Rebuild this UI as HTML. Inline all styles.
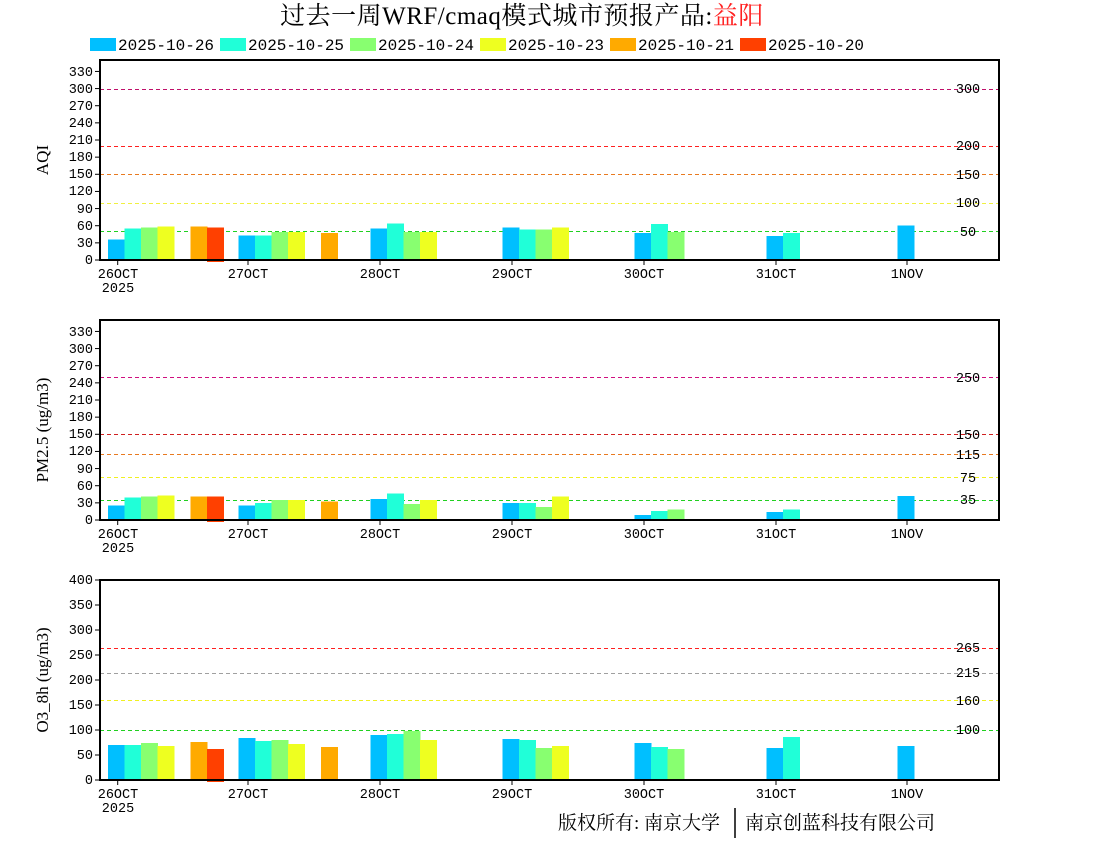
<!DOCTYPE html>
<html><head><meta charset="utf-8"><style>
body{margin:0;background:#fff;width:1100px;height:850px;overflow:hidden}
svg{font-family:"Liberation Mono","DejaVu Sans Mono",monospace}
.t{font-size:13.5px;fill:#000}
.yl{font-family:"Liberation Serif",serif;font-size:17px}
.cj{font-family:"Liberation Serif","Noto Serif CJK SC","Noto Sans CJK SC",serif}
</style></head><body>
<svg id="s" width="1100" height="850" xmlns="http://www.w3.org/2000/svg">
<text x="522" y="24" text-anchor="middle" class="cj" font-size="25" letter-spacing="0.5">过去一周WRF/cmaq模式城市预报产品:<tspan fill="#ff2020">益阳</tspan></text>
<g font-size="16" style="font-size:16px">
<rect x="90" y="38" width="26" height="13" fill="#00bfff"/><text x="118" y="50">2025-10-26</text>
<rect x="220" y="38" width="26" height="13" fill="#20ffd8"/><text x="248" y="50">2025-10-25</text>
<rect x="350" y="38" width="26" height="13" fill="#88ff70"/><text x="378" y="50">2025-10-24</text>
<rect x="480" y="38" width="26" height="13" fill="#eeff20"/><text x="508" y="50">2025-10-23</text>
<rect x="610" y="38" width="26" height="13" fill="#ffaa00"/><text x="638" y="50">2025-10-21</text>
<rect x="740" y="38" width="26" height="13" fill="#ff4000"/><text x="768" y="50">2025-10-20</text>
</g>
<g id="g"></g>
<g class="t" text-anchor="end">
<text x="93" y="264">0</text><text x="93" y="247">30</text><text x="93" y="230">60</text><text x="93" y="213">90</text><text x="93" y="195">120</text><text x="93" y="178">150</text><text x="93" y="161">180</text><text x="93" y="144">210</text><text x="93" y="127">240</text><text x="93" y="110">270</text><text x="93" y="93">300</text><text x="93" y="76">330</text>
<text x="93" y="524">0</text><text x="93" y="507">30</text><text x="93" y="490">60</text><text x="93" y="473">90</text><text x="93" y="455">120</text><text x="93" y="438">150</text><text x="93" y="421">180</text><text x="93" y="404">210</text><text x="93" y="387">240</text><text x="93" y="370">270</text><text x="93" y="353">300</text><text x="93" y="336">330</text>
<text x="93" y="784">0</text><text x="93" y="759">50</text><text x="93" y="734">100</text><text x="93" y="709">150</text><text x="93" y="684">200</text><text x="93" y="659">250</text><text x="93" y="634">300</text><text x="93" y="609">350</text><text x="93" y="584">400</text>
</g>
<g class="t" text-anchor="middle">
<text x="968" y="93">300</text><text x="968" y="150">200</text><text x="968" y="179">150</text><text x="968" y="207">100</text><text x="968" y="236">50</text>
<text x="968" y="382">250</text><text x="968" y="439">150</text><text x="968" y="459">115</text><text x="968" y="482">75</text><text x="968" y="504">35</text>
<text x="968" y="652">265</text><text x="968" y="677">215</text><text x="968" y="705">160</text><text x="968" y="734">100</text>
</g>
<g class="t" text-anchor="middle">
<text x="118" y="278">26OCT</text><text x="118" y="292">2025</text><text x="248" y="278">27OCT</text><text x="380" y="278">28OCT</text><text x="512" y="278">29OCT</text><text x="644" y="278">30OCT</text><text x="776" y="278">31OCT</text><text x="907" y="278">1NOV</text>
<text x="118" y="538">26OCT</text><text x="118" y="552">2025</text><text x="248" y="538">27OCT</text><text x="380" y="538">28OCT</text><text x="512" y="538">29OCT</text><text x="644" y="538">30OCT</text><text x="776" y="538">31OCT</text><text x="907" y="538">1NOV</text>
<text x="118" y="798">26OCT</text><text x="118" y="812">2025</text><text x="248" y="798">27OCT</text><text x="380" y="798">28OCT</text><text x="512" y="798">29OCT</text><text x="644" y="798">30OCT</text><text x="776" y="798">31OCT</text><text x="907" y="798">1NOV</text>
</g>
<text class="yl" transform="translate(48,160) rotate(-90)" text-anchor="middle">AQI</text>
<text class="yl" transform="translate(48,430) rotate(-90)" text-anchor="middle">PM2.5 (ug/m3)</text>
<text class="yl" transform="translate(48,680) rotate(-90)" text-anchor="middle">O3_8h (ug/m3)</text>
<text x="558" y="829" class="cj" font-size="19">版权所有: 南京大学</text>
<line x1="735" y1="808" x2="735" y2="838" stroke="#000" stroke-width="1.5"/>
<text x="745" y="829" class="cj" font-size="19">南京创蓝科技有限公司</text>
</svg>
<script>
var g=document.getElementById('g'),NS='http://www.w3.org/2000/svg';
function el(t,a){var e=document.createElementNS(NS,t);for(var k in a)e.setAttribute(k,a[k]);g.appendChild(e);}
var cols=['#00bfff','#20ffd8','#88ff70','#eeff20',null,'#ffaa00','#ff4000'];
var days=[117.7,248,380,512,644,776,907];
var panels=[
 {y0:260,s:200/350,lines:[[300,'#c0106a'],[200,'#ff2020'],[150,'#e87a20'],[100,'#f0f040'],[50,'#20d020']],
  d:[[36,55,57,59,null,59,57],[43,43,49,49,null,47],[55,64,49,49],[57,53,53,57],[47,63,49],[42,47],[60]],ticks:[0,30,60,90,120,150,180,210,240,270,300,330]},
 {y0:520,s:200/350,lines:[[250,'#d01080'],[150,'#d02020'],[115,'#e87a20'],[75,'#f0f020'],[35,'#20d020']],
  d:[[25,39,41,43,null,41,41],[25,30,35,35,null,32],[37,46,28,35],[30,30,23,41],[9,16,18],[14,18],[42]],ticks:[0,30,60,90,120,150,180,210,240,270,300,330]},
 {y0:780,s:0.5,lines:[[265,'#ff2020'],[215,'#a0a0a0'],[160,'#f0f020'],[100,'#20d020']],
  d:[[70,70,74,68,null,76,62],[84,78,80,72,null,66],[90,92,98,80],[82,80,64,68],[74,66,62],[64,86],[68]],ticks:[0,50,100,150,200,250,300,350,400]}
];
panels.forEach(function(p){
 p.lines.forEach(function(l){var y=Math.round(p.y0-l[0]*p.s)+0.5;el('line',{x1:100,x2:999,y1:y,y2:y,stroke:l[1],'stroke-width':1.3,'stroke-dasharray':'4,3','shape-rendering':'crispEdges'});});
 p.d.forEach(function(vals,i){vals.forEach(function(v,j){if(v==null)return;var x=days[i]-9.5+j*16.5;var h=v*p.s;
  var extra=(j==6)?2:0;el('rect',{x:x,y:p.y0-h,width:17,height:h+extra,fill:cols[j],'shape-rendering':'crispEdges'});});});
 p.ticks.forEach(function(t){var y=p.y0-t*p.s;el('line',{x1:95,x2:100,y1:y,y2:y,stroke:'#000','stroke-width':1});});
 days.forEach(function(x){el('line',{x1:x,x2:x,y1:p.y0,y2:p.y0+5,stroke:'#000','stroke-width':1});});
 el('rect',{x:100,y:p.y0-200,width:899,height:200,fill:'none',stroke:'#000','stroke-width':2});
});
</script>
</body></html>
